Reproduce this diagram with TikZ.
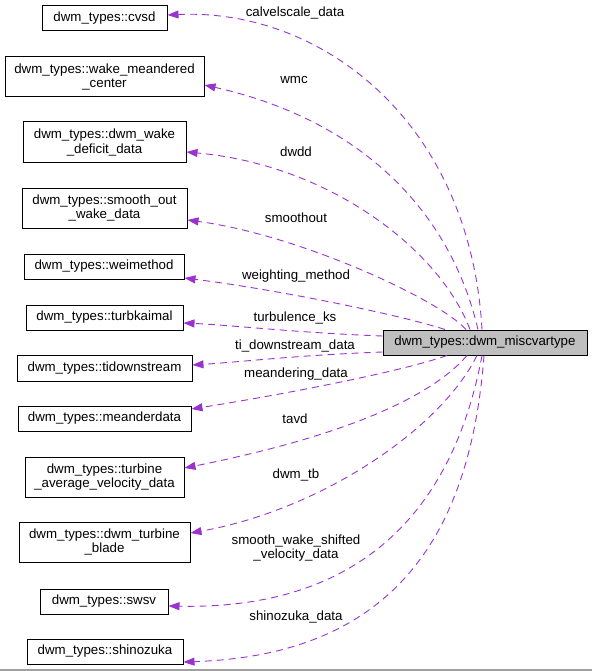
\documentclass[tikz,border=0pt]{standalone}
\usepackage{fontspec}
\setmainfont{Liberation Sans}
\usetikzlibrary{arrows.meta}
\definecolor{edgepurple}{RGB}{154,50,205}
\definecolor{mainfill}{RGB}{191,191,191}
\tikzset{
  box/.style={draw=black, line width=1pt, inner sep=0pt, align=center,
    font=\fontsize{13.3}{14.5}\selectfont},
  mainbox/.style={box, fill=mainfill},
  elabel/.style={inner sep=0pt, align=center, font=\fontsize{13.3}{14.5}\selectfont},
  edge/.style={draw=edgepurple, line width=0.9pt, dash pattern=on 7pt off 5pt,
    -{Triangle[length=11pt,width=8pt,fill=edgepurple]}}
}
\begin{document}
\begin{tikzpicture}[x=1pt,y=-1pt]
\useasboundingbox (0,0) rectangle (592,671);
% main node
\node[mainbox, minimum width=204pt, minimum height=25pt] (main) at (485,342.5) {dwm\_types::dwm\_miscvartype};
% left boxes
\node[box, minimum width=125pt, minimum height=25pt] (cvsd) at (104.5,18.5) {dwm\_types::cvsd};
\node[box, minimum width=199pt, minimum height=40pt] (wmc) at (104.5,77) {dwm\_types::wake\_meandered\\\_center};
\node[box, minimum width=163pt, minimum height=41pt] (dwdd) at (104.5,142.5) {dwm\_types::dwm\_wake\\\_deficit\_data};
\node[box, minimum width=165pt, minimum height=40pt] (smo) at (104.5,208) {dwm\_types::smooth\_out\\\_wake\_data};
\node[box, minimum width=160pt, minimum height=25pt] (wei) at (104,266.5) {dwm\_types::weimethod};
\node[box, minimum width=157pt, minimum height=25pt] (turb) at (104.5,317.5) {dwm\_types::turbkaimal};
\node[box, minimum width=175pt, minimum height=26pt] (tid) at (104.5,368) {dwm\_types::tidownstream};
\node[box, minimum width=173pt, minimum height=25pt] (mea) at (104.5,418.5) {dwm\_types::meanderdata};
\node[box, minimum width=159pt, minimum height=40pt] (tavd) at (104.5,477) {dwm\_types::turbine\\\_average\_velocity\_data};
\node[box, minimum width=171pt, minimum height=40pt] (dtb) at (104.5,542) {dwm\_types::dwm\_turbine\\\_blade};
\node[box, minimum width=128pt, minimum height=25pt] (swsv) at (104,601.5) {dwm\_types::swsv};
\node[box, minimum width=156pt, minimum height=25pt] (shin) at (105,651.5) {dwm\_types::shinozuka};
% edges
\draw[edge] ([xshift=-3pt]main.north) .. controls (470,120) and (320,8) .. ([yshift=3.5pt]cvsd.east);
\draw[edge] ([xshift=-7pt]main.north) .. controls (450,210) and (360,120) .. ([yshift=-8pt]wmc.east);
\draw[edge] ([xshift=-15pt]main.north) .. controls (440,250) and (330,165) .. ([yshift=-9.5pt]dwdd.east);
\draw[edge] ([xshift=-19pt]main.north) .. controls (440,300) and (300,235) .. ([yshift=-12pt]smo.east);
\draw[edge] ([xshift=-40pt]main.north) .. controls (400,315) and (280,290) .. ([yshift=-11.5pt]wei.east);
\draw[edge] ([yshift=6.5pt]main.west) .. controls (300,333) and (230,325) .. ([yshift=-5.5pt]turb.east);
\draw[edge] ([yshift=-9.5pt]main.west) .. controls (300,355) and (240,362) .. ([yshift=3pt]tid.east);
\draw[edge] ([xshift=-38pt]main.south) .. controls (400,372) and (280,395) .. ([yshift=9.5pt]mea.east);
\draw[edge] ([xshift=-18pt]main.south) .. controls (420,410) and (300,445) .. ([yshift=9pt]tavd.east);
\draw[edge] ([xshift=-8pt]main.south) .. controls (440,430) and (320,510) .. ([yshift=9pt]dtb.east);
\draw[edge] ([xshift=-3pt]main.south) .. controls (455,500) and (370,610) .. ([yshift=-4.5pt]swsv.east);
\draw[edge] ([xshift=-1pt]main.south) .. controls (470,540) and (390,655) .. ([yshift=-10.5pt]shin.east);
% edge labels
\node[elabel] (l1) at (295,13) {calvelscale\_data};
\node[elabel] (l2) at (294,80) {wmc};
\node[elabel] (l3) at (296,152) {dwdd};
\node[elabel] (l4) at (296,218) {smoothout};
\node[elabel] (l5) at (296,276) {weighting\_method};
\node[elabel] (l6) at (295,318) {turbulence\_ks};
\node[elabel] (l7) at (295,346) {ti\_downstream\_data};
\node[elabel] (l8) at (296,374) {meandering\_data};
\node[elabel] (l9) at (295,419) {tavd};
\node[elabel] (l10) at (296,475) {dwm\_tb};
\node[elabel] (l11) at (296,548) {smooth\_wake\_shifted\\\_velocity\_data};
\node[elabel] (l12) at (296,617) {shinozuka\_data};
% bottom rule
\draw[color={rgb,255:red,160;green,160;blue,160}, line width=1.5pt] (0,670) -- (592,670);
\end{tikzpicture}
\end{document}
